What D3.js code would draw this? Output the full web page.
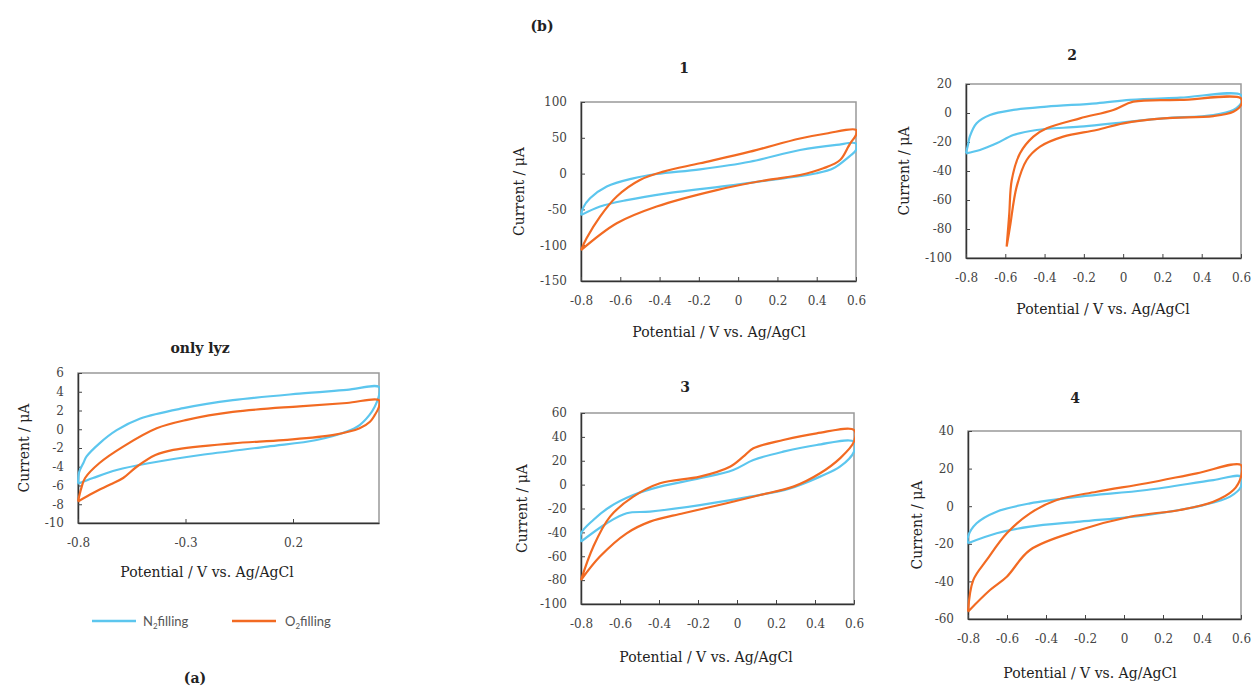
<!DOCTYPE html>
<html lang="en">
<head>
<meta charset="UTF-8">
<title>cyclic voltammograms</title>
<style>
  body { margin: 0; background: #fff; }
  svg text { font-family: "DejaVu Serif", "Liberation Serif", serif; fill: #222; }
  .axis .tick text { font-size: 12px; fill: #444; }
  .axis .tick line { stroke: #444; }
  .axis path.domain { stroke: #333; stroke-width: 1.5; }
  .frame { fill: none; stroke: #999; stroke-width: 1.5; }
  .title { font-size: 14px; font-weight: bold; text-anchor: middle; }
  .axtitle { font-size: 14px; text-anchor: middle; }
  .legend text { font-family: Lato, "Open Sans", sans-serif; font-size: 13px; fill: #555; }
  .cv { fill: none; stroke-width: 2.2; stroke-linejoin: round; }
</style>
</head>
<body>
<svg id="svg"></svg>
<script src="https://d3js.org/d3.v7.min.js"></script>
<script>
// ---- data: each loop is [potential V, current uA], traced around the cycle ----
var lyzN2 = [[-0.8,-5.8],[-0.795,-4.6],[-0.775,-3.6],[-0.76,-2.9],[-0.7,-1.5],[-0.62,-0.1],[-0.51,1.15],[-0.31,2.25],[-0.08,3.1],[0.23,3.8],[0.45,4.2],[0.6,4.5],
  [0.6,3.6],[0.58,2.4],[0.555,1.5],[0.51,0.45],[0.45,-0.25],[0.31,-1.15],[0.08,-1.85],[-0.23,-2.75],[-0.465,-3.6],[-0.62,-4.35],[-0.73,-5.2],[-0.8,-5.8]];
var lyzO2 = [[-0.8,-7.7],[-0.785,-6.3],[-0.767,-5.2],[-0.7,-3.6],[-0.59,-1.85],[-0.434,0.1],[-0.294,1.0],[-0.08,1.85],[0.23,2.45],[0.45,2.8],[0.6,3.1],
  [0.6,2.4],[0.58,1.5],[0.558,0.8],[0.51,0.1],[0.39,-0.6],[0.155,-1.15],[-0.08,-1.5],[-0.357,-2.2],[-0.44,-2.75],[-0.527,-4.0],[-0.59,-5.2],[-0.65,-5.9],[-0.73,-6.8],[-0.8,-7.7]];

var p1N2 = [[-0.8,-58],[-0.79,-48],[-0.754,-34.5],[-0.669,-18],[-0.534,-6.6],[-0.415,-0.6],[-0.194,6],[0.06,16.6],[0.315,33],[0.5,40],[0.6,42],
  [0.6,33],[0.575,26],[0.553,21],[0.485,7.5],[0.4,0.5],[0.23,-6.6],[-0.024,-16],[-0.364,-27.5],[-0.567,-37],[-0.703,-46],[-0.8,-58]];
var p1O2 = [[-0.8,-107],[-0.771,-90],[-0.703,-60],[-0.618,-32],[-0.5,-9],[-0.381,2.7],[-0.194,14.4],[0.06,30.6],[0.315,49],[0.45,56],[0.6,61],
  [0.6,54],[0.575,44],[0.561,37.6],[0.519,19],[0.434,7.4],[0.315,-2],[0.145,-9],[-0.109,-23],[-0.415,-46],[-0.618,-69.4],[-0.8,-107]];

var p2N2 = [[-0.8,-27.8],[-0.79,-22],[-0.78,-16],[-0.746,-7.1],[-0.678,-1.4],[-0.559,2.1],[-0.389,4.4],[-0.135,6.7],[0.035,9],[0.29,10.6],[0.6,12.4],
  [0.6,6.7],[0.561,2.1],[0.459,-1.4],[0.205,-3.7],[-0.05,-7.1],[-0.22,-9.4],[-0.44,-11.7],[-0.559,-15.2],[-0.644,-20.9],[-0.729,-25.5],[-0.8,-27.8]];
var p2O2 = [[-0.593,-92.2],[-0.58,-70],[-0.567,-46.2],[-0.525,-27.8],[-0.457,-16.3],[-0.389,-10.6],[-0.22,-3.7],[-0.05,2.1],[0.052,7.8],[0.29,9],[0.6,10.1],
  [0.6,5.5],[0.561,0.9],[0.459,-2.1],[0.205,-3.7],[0.001,-7.1],[-0.135,-11.7],[-0.305,-16.3],[-0.423,-23.2],[-0.491,-32.4],[-0.542,-50.8],[-0.576,-78.4],[-0.593,-92.2]];

var p3N2 = [[-0.8,-47.8],[-0.8,-40.8],[-0.737,-29.6],[-0.651,-18.5],[-0.532,-8.7],[-0.395,-1.7],[-0.19,5.3],[-0.019,12.3],[0.084,20.6],[0.237,27.6],[0.409,33.2],[0.6,36],
  [0.6,27.6],[0.528,15],[0.426,6.7],[0.272,-3.1],[0.067,-10.1],[-0.19,-17.1],[-0.446,-22.6],[-0.566,-24],[-0.668,-32.4],[-0.8,-47.8]];
var p3O2 = [[-0.8,-79.9],[-0.737,-52],[-0.651,-26.8],[-0.532,-10.1],[-0.395,1.1],[-0.19,6.7],[-0.036,15],[0.032,23.4],[0.084,30.4],[0.237,37.4],[0.409,43],[0.6,45.8],
  [0.6,36],[0.528,22],[0.426,9.5],[0.289,-1.7],[0.118,-8.7],[-0.053,-15.6],[-0.275,-24],[-0.446,-31],[-0.566,-40.8],[-0.703,-60.3],[-0.8,-79.9]];

var p4N2 = [[-0.8,-19.7],[-0.8,-16.2],[-0.756,-9.1],[-0.653,-2.9],[-0.482,1.5],[-0.226,5.1],[0.116,8.6],[0.458,13.9],[0.6,15.7],
  [0.6,10.4],[0.544,5.1],[0.407,0.6],[0.116,-4.7],[-0.226,-8.2],[-0.482,-10.9],[-0.653,-14.4],[-0.8,-19.7]];
var p4O2 = [[-0.8,-56.1],[-0.773,-39.3],[-0.704,-28.6],[-0.601,-14.4],[-0.482,-3.8],[-0.345,3.3],[-0.14,7.7],[0.116,12.2],[0.373,17.5],[0.6,21.9],
  [0.6,15.7],[0.561,8.6],[0.458,2.4],[0.287,-2],[0.031,-5.6],[-0.226,-12.7],[-0.482,-23.3],[-0.601,-37.5],[-0.687,-44.6],[-0.8,-56.1]];

// tick labels
var xTicksA = [-0.8, -0.3, 0.2];
var xTicksB = [-0.8, -0.6, -0.4, -0.2, 0, 0.2, 0.4, 0.6];
var yTicksA = [-10, -8, -6, -4, -2, 0, 2, 4, 6];
var yTicks1 = [-150, -100, -50, 0, 50, 100];
var yTicks2 = [-100, -80, -60, -40, -20, 0, 20];
var yTicks3 = [-100, -80, -60, -40, -20, 0, 20, 40, 60];
var yTicks4 = [-60, -40, -20, 0, 20, 40];

var titles = ["only lyz", "1", "2", "3", "4"];
var seriesNames = ["N2", "O2"];
var colors = { N2: "#5cc6ee", O2: "#f26a22" };

var xTitle = "Potential / V vs. Ag/AgCl";
var yTitle = "Current / \u03bcA";

// ---- layout ----
var W = 1254, H = 689;
var svg = d3.select("#svg").attr("width", W).attr("height", H);

var panels = [
  { title: titles[0], tx: 200, ty: 353, x0: 78, x1: 379, y0: 373, y1: 523, yd: [-10, 6], xt: xTicksA, yt: yTicksA, N2: lyzN2, O2: lyzO2, ytx: 24, xtx: 207, xty: 577 },
  { title: titles[1], tx: 684, ty: 73, x0: 581, x1: 856, y0: 102, y1: 281, yd: [-150, 100], xt: xTicksB, yt: yTicks1, N2: p1N2, O2: p1O2, ytx: 519, xtx: 719, xty: 337 },
  { title: titles[2], tx: 1072, ty: 60, x0: 966, x1: 1241, y0: 84, y1: 258, yd: [-100, 20], xt: xTicksB, yt: yTicks2, N2: p2N2, O2: p2O2, ytx: 904, xtx: 1103, xty: 314 },
  { title: titles[3], tx: 685, ty: 392, x0: 581, x1: 854, y0: 413, y1: 604, yd: [-100, 60], xt: xTicksB, yt: yTicks3, N2: p3N2, O2: p3O2, ytx: 522, xtx: 706, xty: 662 },
  { title: titles[4], tx: 1075, ty: 403, x0: 968, x1: 1241, y0: 431, y1: 619, yd: [-60, 40], xt: xTicksB, yt: yTicks4, N2: p4N2, O2: p4O2, ytx: 917, xtx: 1090, xty: 678 }
];

var defs = svg.append("defs");

panels.forEach(function (p, i) {
  var x = d3.scaleLinear().domain([-0.8, 0.6]).range([p.x0, p.x1]);
  var y = d3.scaleLinear().domain(p.yd).range([p.y1, p.y0]);
  var g = svg.append("g");

  defs.append("clipPath").attr("id", "clip" + i)
    .append("rect")
    .attr("x", p.x0 - 1).attr("y", p.y0 - 1)
    .attr("width", p.x1 - p.x0 + 2).attr("height", p.y1 - p.y0 + 2);

  // outer frame (top/right lighter)
  g.append("rect").attr("class", "frame")
    .attr("x", p.x0).attr("y", p.y0)
    .attr("width", p.x1 - p.x0).attr("height", p.y1 - p.y0);

  g.append("g").attr("class", "axis")
    .attr("transform", "translate(" + p.x0 + ",0)")
    .call(d3.axisLeft(y).tickValues(p.yt).tickSizeInner(-4).tickSizeOuter(0)
      .tickPadding(14).tickFormat(function (d) { return String(d); }))
    .attr("font-family", null);

  g.append("g").attr("class", "axis")
    .attr("transform", "translate(0," + p.y1 + ")")
    .call(d3.axisBottom(x).tickValues(p.xt).tickSizeInner(-4).tickSizeOuter(0)
      .tickPadding(15).tickFormat(function (d) { return String(d); }))
    .attr("font-family", null);

  var line = d3.line()
    .x(function (d) { return x(d[0]); })
    .y(function (d) { return y(d[1]); })
    .curve(d3.curveCatmullRom.alpha(0.5));

  var plot = g.append("g").attr("clip-path", "url(#clip" + i + ")");
  seriesNames.forEach(function (s) {
    plot.append("path").attr("class", "cv")
      .attr("d", line(p[s]))
      .attr("stroke", colors[s]);
  });

  g.append("text").attr("class", "title")
    .attr("x", p.tx).attr("y", p.ty).text(p.title);

  g.append("text").attr("class", "axtitle")
    .attr("x", p.xtx).attr("y", p.xty).text(xTitle);

  g.append("text").attr("class", "axtitle")
    .attr("transform", "translate(" + p.ytx + "," + ((p.y0 + p.y1) / 2) + ") rotate(-90)")
    .attr("dy", "0.35em").text(yTitle);
});

// legend under panel (a)
var leg = svg.append("g").attr("class", "legend");
var legItems = [
  { s: "N2", lx: 92, tx: 143, base: "N", rest: "filling" },
  { s: "O2", lx: 232, tx: 285, base: "O", rest: "filling" }
];
legItems.forEach(function (d) {
  leg.append("line")
    .attr("x1", d.lx).attr("x2", d.lx + 44)
    .attr("y1", 621).attr("y2", 621)
    .attr("stroke", colors[d.s]).attr("stroke-width", 2.5);
  var t = leg.append("text").attr("x", d.tx).attr("y", 626);
  t.append("tspan").text(d.base);
  t.append("tspan").attr("dy", 3).attr("font-size", 8).text("2");
  t.append("tspan").attr("dy", -3).text(d.rest);
});

svg.append("text").attr("class", "title").attr("font-size", 13)
  .attr("x", 195).attr("y", 683).text("(a)");
svg.append("text").attr("class", "title").attr("font-size", 13)
  .attr("x", 542).attr("y", 31).text("(b)");
</script>
</body>
</html>
